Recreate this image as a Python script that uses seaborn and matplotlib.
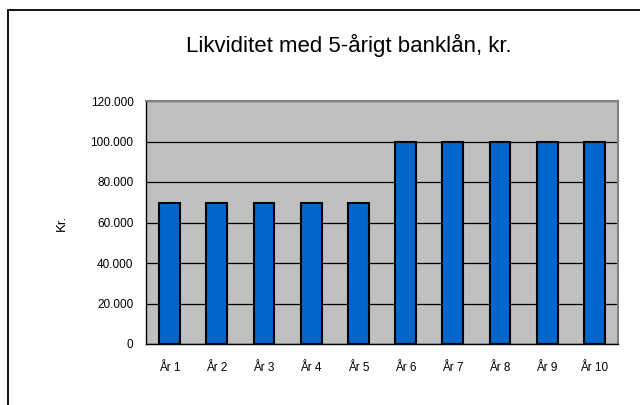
import matplotlib
matplotlib.use("Agg")
import matplotlib.pyplot as plt
import seaborn as sns
import pandas as pd
import numpy as np
from matplotlib.patches import Rectangle
from matplotlib.ticker import FuncFormatter

categories = ["År 1", "År 2", "År 3", "År 4", "År 5", "År 6", "År 7", "År 8", "År 9", "År 10"]
values = [69500, 69500, 69500, 69500, 69500, 100000, 100000, 100000, 100000, 100000]
yticks = [0, 20000, 40000, 60000, 80000, 100000, 120000]

sns.set_style("white")
plt.rcParams['font.family'] = ['Liberation Sans', 'DejaVu Sans']
plt.rcParams['text.color'] = 'black'
plt.rcParams['axes.labelcolor'] = 'black'
plt.rcParams['xtick.color'] = 'black'
plt.rcParams['ytick.color'] = 'black'

df = pd.DataFrame({"cat": categories, "val": values})

fig = plt.figure(figsize=(6.4, 4.05), dpi=100)
ax = fig.add_axes([146/640, 61/405, 472/640, 243/405])
ax.set_facecolor("#C0C0C0")

sns.barplot(data=df, x="cat", y="val", ax=ax, color="#0066CC", width=0.44,
            edgecolor="black", linewidth=1.5, saturation=1, zorder=3)

ax.set_ylim(0, 120000)
ax.set_xlim(-0.5, len(categories) - 0.5)
ax.set_yticks(yticks)
ax.yaxis.set_major_formatter(FuncFormatter(lambda v, p: f"{int(v):,}".replace(",", ".")))
ax.grid(axis="y", color="black", linewidth=0.9, zorder=1)
ax.set_axisbelow(True)

ax.set_xticks(np.arange(len(categories)))
ax.set_xticklabels(categories, fontsize=8.5)
ax.set_xticks(np.arange(-0.5, len(categories)), minor=True)
ax.tick_params(axis="x", which="major", length=0, pad=13)
ax.tick_params(axis="x", which="minor", length=5, width=1, color="black", direction="out")
ax.tick_params(axis="y", length=5, width=1, color="black", direction="out", labelsize=8.5, pad=4)

ax.set_xlabel("")
ax.set_ylabel("Kr.", fontsize=9.5, labelpad=16)

for s in ["left", "bottom"]:
    ax.spines[s].set_color("black")
    ax.spines[s].set_linewidth(1)
for s in ["top", "right"]:
    ax.spines[s].set_color("#808080")
    ax.spines[s].set_linewidth(1.5)

fig.text(349/640, 1 - 45/405, "Likviditet med 5-årigt banklån, kr.", ha="center", va="center", fontsize=16)

fig.patches.append(Rectangle((8/640, -0.1), 1.2, 1 - 10.5/405 + 0.1, transform=fig.transFigure,
                             fill=False, edgecolor="black", linewidth=1.3, zorder=10))

fig.savefig("out.png", dpi=100)
